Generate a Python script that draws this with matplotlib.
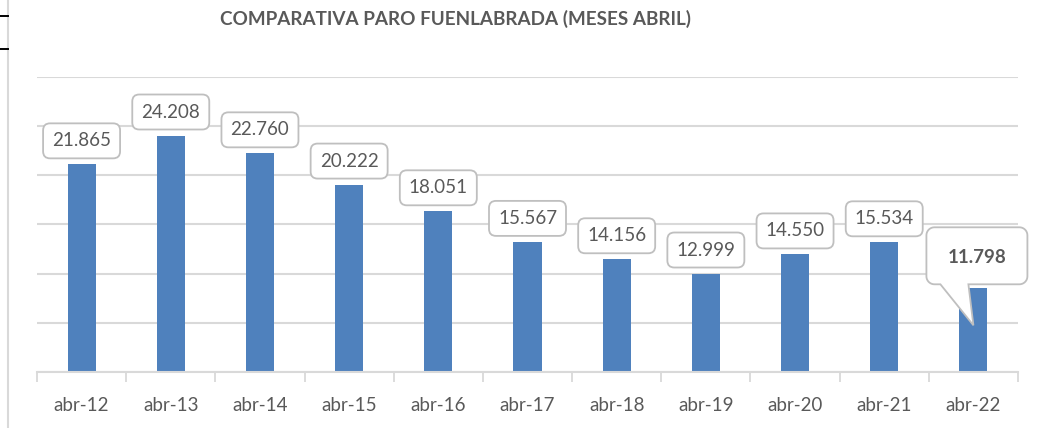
import numpy as np
import matplotlib
matplotlib.use("Agg")
import matplotlib.pyplot as plt
import matplotlib.transforms as mtransforms
from matplotlib.patches import FancyBboxPatch, PathPatch
from matplotlib.path import Path

# datos: paro registrado en Fuenlabrada, mes de abril
meses = ["abr-12", "abr-13", "abr-14", "abr-15", "abr-16", "abr-17",
         "abr-18", "abr-19", "abr-20", "abr-21", "abr-22"]
parados = [21865, 24208, 22760, 20222, 18051, 15567,
           14156, 12999, 14550, 15534, 11798]
etiquetas = ["21.865", "24.208", "22.760", "20.222", "18.051", "15.567",
             "14.156", "12.999", "14.550", "15.534", "11.798"]
titulo = "COMPARATIVA PARO FUENLABRADA (MESES ABRIL)"

AZUL = "#4F81BD"
GRIS_TXT = "#595959"
GRIS_LIN = "#D9D9D9"
GRIS_CAJA = "#BFBFBF"

plt.rcParams['font.family'] = ['Lato', 'DejaVu Sans']

fig = plt.figure(figsize=(10.43, 4.28), dpi=100)
W, H = 1043, 428
ax = fig.add_axes([37 / W, 56 / H, (1018 - 37) / W, (372 - 76.5) / H])

x = np.arange(len(meses))
ax.bar(x, parados, width=0.314, color=AZUL, zorder=2)

ax.set_xlim(-0.5, len(meses) - 0.5)
ax.set_ylim(5000, 29000)
ax.set_yticks(np.arange(5000, 29001, 4000))
ax.yaxis.grid(True, color=GRIS_LIN, lw=1.5, zorder=0)
ax.tick_params(axis='y', left=False, labelleft=False)

ax.set_xticks(x)
ax.set_xticklabels(meses, fontsize=13.5, color=GRIS_TXT)
ax.set_xticks(np.arange(-0.5, len(meses)), minor=True)
ax.tick_params(axis='x', which='major', length=0, pad=18)
ax.tick_params(axis='x', which='minor', length=7, width=1.3, color=GRIS_LIN)

for s in ['top', 'right', 'left']:
    ax.spines[s].set_visible(False)
ax.spines['bottom'].set_color(GRIS_LIN)
ax.spines['bottom'].set_linewidth(1.5)


def ancla(i, v):
    # desplazamiento en pixeles respecto a lo alto de la barra
    return mtransforms.Affine2D() + mtransforms.ScaledTranslation(i, v, ax.transData)


# etiquetas normales
for i, (v, t) in enumerate(zip(parados[:-1], etiquetas[:-1])):
    tr = ancla(i, v)
    caja = FancyBboxPatch((-38.5, 6), 77, 35,
                          boxstyle="round,pad=0,rounding_size=7",
                          transform=tr, fc='white', ec=GRIS_CAJA, lw=1.3,
                          zorder=4)
    ax.add_patch(caja)
    ax.text(0, 23.5, t, transform=tr, ha='center', va='center',
            fontsize=13.5, color=GRIS_TXT, zorder=5)


# bocadillo de la ultima barra
def bocadillo(x0, x1, y0, y1, r, b0, b1, punta):
    verts = [(b1, y0), punta, (b0, y0), (x0 + r, y0)]
    def arco(cx, cy, a0, a1):
        ang = np.radians(np.linspace(a0, a1, 10))
        return [(cx + r * np.cos(a), cy + r * np.sin(a)) for a in ang]
    verts += arco(x0 + r, y0 + r, 270, 180)
    verts += arco(x0 + r, y1 - r, 180, 90)
    verts += arco(x1 - r, y1 - r, 90, 0)
    verts += arco(x1 - r, y0 + r, 0, -90)
    verts.append((b1, y0))
    return Path(verts, closed=True)


n = len(parados) - 1
tr = ancla(n, parados[n])
p = bocadillo(-47, 54, 4, 61, 8, -33, -5, (0, -37))
ax.add_patch(PathPatch(p, transform=tr, fc='white', ec=GRIS_CAJA, lw=1.3,
                       zorder=4, clip_on=False))
ax.text(3.5, 31, etiquetas[n], transform=tr, ha='center', va='center',
        fontsize=13.5, fontweight='bold', color=GRIS_TXT, zorder=5)

fig.text(455 / W, 1 - 19 / H, titulo, ha='center', va='center',
         fontsize=13.6, fontweight='bold', color=GRIS_TXT)

# bordes del recorte
fig.add_artist(plt.Line2D([8.3 / W, 8.3 / W], [0, 1], color=GRIS_LIN, lw=1.5))
for yy in (16, 49):
    fig.add_artist(plt.Line2D([0, 8 / W], [1 - yy / H, 1 - yy / H],
                              color='black', lw=1.4))

fig.savefig("out.png", dpi=100)
